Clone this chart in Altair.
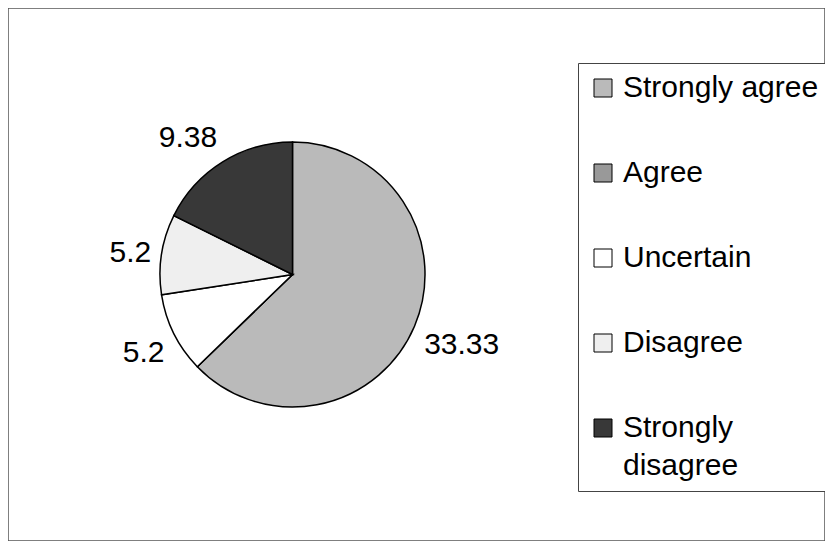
import altair as alt
import pandas as pd

categories = ["Strongly agree", "Agree", "Uncertain", "Disagree", "Strongly disagree"]
values = [33.33, 0, 5.2, 5.2, 9.38]
colors = ["#bababa", "#999999", "#ffffff", "#efefef", "#383838"]

df = pd.DataFrame({"category": categories, "value": values, "idx": list(range(len(categories)))})

FONT = "Liberation Sans"
FS = 30
CX, CY = 284.5, 266.5
R = 132.5
LR = 143

base = (
    alt.Chart(df)
    .transform_joinaggregate(total="sum(value)")
    .transform_window(cum="sum(value)", sort=[alt.SortField("idx")])
    .transform_calculate(
        a="2 * PI * (datum.cum - datum.value / 2) / datum.total"
    )
)

theta = alt.Theta("value:Q", stack=True)
order = alt.Order("idx:Q")
color = alt.Color(
    "category:N",
    scale=alt.Scale(domain=categories, range=colors),
    legend=alt.Legend(
        title=None,
        orient="none",
        legendX=570,
        legendY=55,
        symbolType="square",
        symbolSize=324,
        symbolStrokeColor="black",
        symbolStrokeWidth=1,
        labelFont=FONT,
        labelFontSize=FS,
        labelColor="black",
        labelLimit=0,
        labelOffset=5,
        rowPadding=55,
        padding=10,
        strokeColor="#444444",
        fillColor="white",
        labelExpr="length(datum.label) > 15 ? split(datum.label, ' ') : datum.label",
    ),
)

pie = base.mark_arc(radius=R, stroke="black", strokeWidth=1.5).encode(
    theta=theta, color=color, order=order, x=alt.value(CX), y=alt.value(CY)
)


def label_layer(align, baseline, cond):
    return base.mark_text(
        radius=LR, align=align, baseline=baseline, font=FONT, fontSize=FS, color="black"
    ).encode(
        theta=theta,
        order=order,
        text=alt.condition("datum.value > 0 && " + cond, "value:Q", alt.value("")),
        x=alt.value(CX),
        y=alt.value(CY),
    )


layers = []
for align, side in [("left", "sin(datum.a) >= 0"), ("right", "sin(datum.a) < 0")]:
    for baseline, vert in [
        ("top", "cos(datum.a) < -0.3"),
        ("middle", "abs(cos(datum.a)) <= 0.3"),
        ("bottom", "cos(datum.a) > 0.3"),
    ]:
        layers.append(label_layer(align, baseline, side + " && " + vert))

chart = (
    alt.layer(pie, *layers)
    .properties(width=817, height=533, autosize=alt.AutoSizeParams(type="none"), padding=0, background="white")
    .configure(style={"guide-label": {"lineHeight": 38}})
    .configure_view(stroke="#555555", strokeWidth=1.5)
)

chart.save("out.html", embed_options={"renderer": "svg", "actions": False})
